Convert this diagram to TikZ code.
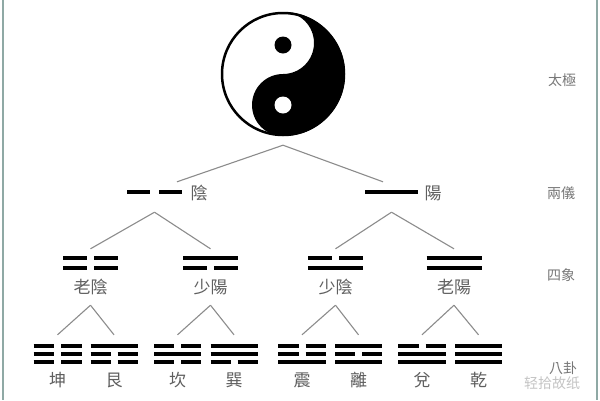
\documentclass[tikz,border=0pt]{standalone}
\usepackage{fontspec}
\newfontfamily\tcfont{Noto Sans CJK TC}
\usetikzlibrary{calc}

\definecolor{lblgray}{HTML}{5F5F5F}
\definecolor{sidegray}{HTML}{777777}
\definecolor{linkgray}{HTML}{8C8C8C}
\definecolor{framegray}{HTML}{8FA9A5}
\definecolor{markgray}{HTML}{C4C4C4}

% one gua: x centre, y of top row, half width, row distance, rows from the top (1 = solid, 0 = broken)
\newcommand{\gua}[5]{%
  \foreach \row [count=\i from 0] in {#5}{%
    \ifnum\row=1
      \draw[guabar] ({#1-#3},{#2+\i*#4}) -- ({#1+#3},{#2+\i*#4});
    \else
      \draw[guabar] ({#1-#3},{#2+\i*#4}) -- ({#1-3.5},{#2+\i*#4});
      \draw[guabar] ({#1+3.5},{#2+\i*#4}) -- ({#1+#3},{#2+\i*#4});
    \fi}}

\begin{document}
\begin{tikzpicture}[x=1pt,y=-1pt,
    guabar/.style={line width=3.8pt,black},
    link/.style={draw=linkgray,line width=1.1pt},
    unit/.style={inner sep=0pt,minimum width=55pt},
    lbl/.style={font=\tcfont\fontsize{17}{17}\selectfont,text=lblgray,inner sep=0pt},
    side/.style={font=\tcfont\fontsize{14}{14}\selectfont,text=sidegray,inner sep=0pt}]

    \fill[white] (0,0) rectangle (600,400);
    \useasboundingbox (0,0) rectangle (600,400);
    % frame lines left and right
    \draw[framegray,line width=2pt] (3,0) -- (3,400) (597,0) -- (597,400);

    % taiji
    \node[circle,minimum size=142pt,inner sep=0pt] (taiji) at (283,74) {};
    \begin{scope}[shift={(taiji.center)},y=1pt]
        \fill (0,62) arc[start angle=90,end angle=-90,radius=62]
            arc[start angle=270,end angle=90,radius=31]
            arc[start angle=-90,end angle=90,radius=31] -- cycle;
        \draw[line width=2.5pt] (0,0) circle[radius=61];
        \fill (0,29) circle[radius=8.5];
        \fill[white] (0,-31) circle[radius=8.5];
    \end{scope}

    % liang yi
    \node[unit,minimum height=30pt] (yin) at (154.5,197) {};
    \draw[guabar] (127,192) -- (150,192) (159,192) -- (182,192);
    \node[lbl] (yinlbl) at (199,193) {陰};
    \node[unit,minimum height=30pt] (yang) at (391.5,197) {};
    \gua{391.5}{192}{26.5}{10}{1}
    \node[lbl] (yanglbl) at (433,193) {陽};
    \draw[link] (taiji.south) -- ($(yin.north)+(22.5,0)$);
    \draw[link] (taiji.south) -- ($(yang.north)+(-8.5,0)$);

    % si xiang
    \node[unit,minimum height=56pt] (laoyin) at (90.5,277) {};
    \gua{90.5}{258}{27.5}{10}{0,0}
    \node[lbl] (laoyinlbl) at (90.5,287) {老陰};
    \node[unit,minimum height=56pt] (shaoyang) at (210.5,277) {};
    \gua{210.5}{258}{27.5}{10}{1,0}
    \node[lbl] (shaoyanglbl) at (210.5,287) {少陽};
    \node[unit,minimum height=56pt] (shaoyin) at (335.5,277) {};
    \gua{335.5}{258}{27.5}{10}{0,1}
    \node[lbl] (shaoyinlbl) at (335.5,287) {少陰};
    \node[unit,minimum height=56pt] (laoyang) at (454,277) {};
    \gua{454}{258}{27.5}{10}{1,1}
    \node[lbl] (laoyanglbl) at (454,287) {老陽};
    \draw[link] (yin.south) -- (laoyin.north);
    \draw[link] (yin.south) -- (shaoyang.north);
    \draw[link] (yang.south) -- (shaoyin.north);
    \draw[link] (yang.south) -- (laoyang.north);

    % ba gua
    \begin{scope}[guabar/.style={line width=3.3pt,black},unit/.style={inner sep=0pt,minimum width=48pt,minimum height=55pt}]
        \node[unit] (kun) at (57.5,362.5) {};
        \gua{57.5}{346}{24}{8}{0,0,0}
        \node[lbl] (kunlbl) at (57.5,380) {坤};
        \node[unit] (gen) at (114,362.5) {};
        \gua{114}{346}{23.5}{8}{1,0,0}
        \node[lbl] (genlbl) at (114,380) {艮};
        \node[unit] (kan) at (177.5,362.5) {};
        \gua{177.5}{346}{23.5}{8}{0,1,0}
        \node[lbl] (kanlbl) at (177.5,380) {坎};
        \node[unit] (xun) at (234,362.5) {};
        \gua{234}{346}{23.5}{8}{1,1,0}
        \node[lbl] (xunlbl) at (234,380) {巽};
        \node[unit] (zhen) at (302,362.5) {};
        \gua{302}{346}{24}{8}{0,0,1}
        \node[lbl] (zhenlbl) at (302,380) {震};
        \node[unit] (li) at (358.5,362.5) {};
        \gua{358.5}{346}{23.5}{8}{1,0,1}
        \node[lbl] (lilbl) at (358.5,380) {離};
        \node[unit] (dui) at (422,362.5) {};
        \gua{422}{346}{24}{8}{0,1,1}
        \node[lbl] (duilbl) at (422,380) {兌};
        \node[unit] (qian) at (478.5,362.5) {};
        \gua{478.5}{346}{23.5}{8}{1,1,1}
        \node[lbl] (qianlbl) at (478.5,380) {乾};
    \end{scope}
    \draw[link] (laoyin.south) -- (kun.north);
    \draw[link] (laoyin.south) -- (gen.north);
    \draw[link] (shaoyang.south) -- (kan.north);
    \draw[link] (shaoyang.south) -- (xun.north);
    \draw[link] (shaoyin.south) -- (zhen.north);
    \draw[link] (shaoyin.south) -- (li.north);
    \draw[link] (laoyang.south) -- (dui.north);
    \draw[link] (laoyang.south) -- (qian.north);

    % names of the levels
    \node[side] (taijiname) at (562,80) {太極};
    \node[side] (liangyiname) at (561,193) {兩儀};
    \node[side] (sixiangname) at (561,275) {四象};
    \node[side] (baguaname) at (563,368) {八卦};
    \node[side,text=markgray] (mark) at (552,383) {轻拾故纸};
\end{tikzpicture}
\end{document}
